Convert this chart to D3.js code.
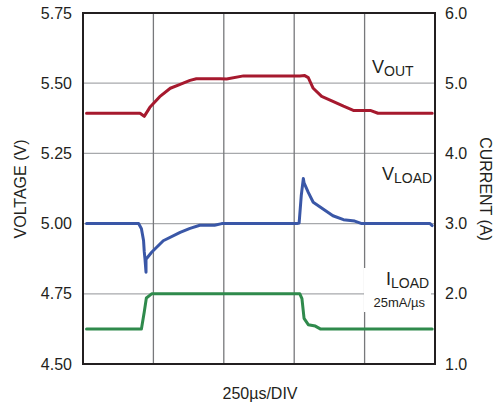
<!DOCTYPE html>
<html><head><meta charset="utf-8">
<script src="https://cdn.jsdelivr.net/npm/d3@7"></script>
<style>
body{margin:0;background:#fff;}
text{font-family:"Liberation Sans Narrow","Arial Narrow","Liberation Sans",Arial,sans-serif;fill:#231f20;}
</style></head><body>
<svg id="c" width="494" height="408"></svg>
<script>
// time in divisions (250µs/DIV), voltages in V, current in A
const voltTicks = [4.50, 4.75, 5.00, 5.25, 5.50, 5.75];
const currTicks = [1.0, 2.0, 3.0, 4.0, 5.0, 6.0];
const timeGrid = [1, 2, 3, 4];

const voutT = [0.05,0.81,0.87,0.95,1.09,1.24,1.38,1.52,1.61,1.95,2.04,2.28,3.08,3.15,3.20,3.27,3.39,3.51,3.70,3.84,4.08,4.19,4.96];
const voutV = [5.393,5.393,5.382,5.414,5.452,5.482,5.496,5.510,5.516,5.516,5.515,5.526,5.526,5.527,5.520,5.482,5.453,5.440,5.418,5.403,5.403,5.393,5.393];

const vloadT = [0.05,0.79,0.83,0.86,0.87,0.88,0.895,0.895,0.975,1.14,1.38,1.52,1.66,1.87,1.97,3.04,3.07,3.10,3.13,3.14,3.20,3.27,3.41,3.55,3.70,3.86,3.96,4.93,4.96];
const vloadV = [5.000,5.000,4.982,4.940,4.900,4.875,4.827,4.873,4.898,4.939,4.969,4.983,4.994,4.994,5.000,5.000,5.002,5.099,5.161,5.145,5.111,5.076,5.052,5.028,5.014,5.009,5.000,5.000,4.993];

const iloadT = [0.05,0.83,0.87,0.90,0.975,3.08,3.11,3.14,3.20,3.30,3.37,4.96];
const iloadA = [1.50,1.50,1.74,1.94,2.00,2.00,1.93,1.65,1.56,1.54,1.50,1.50];

const svg = d3.select("#c");
const L = 83, R = 435, T = 13, B = 364;
const x = d3.scaleLinear().domain([0,5]).range([L,R]);
const yV = d3.scaleLinear().domain([4.5,5.75]).range([B,T]);
const yA = d3.scaleLinear().domain([1.0,6.0]).range([B,T]);

// grid
svg.append("g").selectAll("line").data(voltTicks.slice(1,-1)).join("line")
  .attr("x1",L).attr("x2",R).attr("y1",d=>yV(d)).attr("y2",d=>yV(d))
  .attr("stroke","#a7a9ac").attr("stroke-width",1.3);
svg.append("g").selectAll("line").data(timeGrid).join("line")
  .attr("x1",d=>x(d)).attr("x2",d=>x(d)).attr("y1",T).attr("y2",B)
  .attr("stroke","#77787b").attr("stroke-width",1.3);

// axes (labels only)
const axL = d3.axisLeft(yV).tickValues(voltTicks).tickFormat(d3.format(".2f")).tickSize(0).tickPadding(11);
const gL = svg.append("g").attr("transform",`translate(${L},0)`).call(axL);
const axR = d3.axisRight(yA).tickValues(currTicks).tickFormat(d3.format(".1f")).tickSize(0).tickPadding(10);
const gR = svg.append("g").attr("transform",`translate(${R},0)`).call(axR);
[gL,gR].forEach(g=>{g.select(".domain").remove(); g.selectAll("text").style("font-size","16px").attr("fill","#231f20");});

// white label box for ILOAD
svg.append("rect").attr("x",364).attr("y",268).attr("width",67).attr("height",44).attr("fill","#fff");

// lines
const line = (ys) => d3.line().x(d=>x(d[0])).y(d=>ys(d[1])).curve(d3.curveLinear);
svg.append("path").datum(d3.zip(voutT,voutV)).attr("d",line(yV))
  .attr("fill","none").attr("stroke","#a6192e").attr("stroke-width",3).attr("stroke-linejoin","round").attr("stroke-linecap","round");
svg.append("path").datum(d3.zip(vloadT,vloadV)).attr("d",line(yV))
  .attr("fill","none").attr("stroke","#3a57a7").attr("stroke-width",3).attr("stroke-linejoin","round").attr("stroke-linecap","round");
svg.append("path").datum(d3.zip(iloadT,iloadA)).attr("d",line(yA))
  .attr("fill","none").attr("stroke","#2f8a4c").attr("stroke-width",3).attr("stroke-linejoin","round").attr("stroke-linecap","round");

// frame
svg.append("rect").attr("x",L).attr("y",T).attr("width",R-L).attr("height",B-T)
  .attr("fill","none").attr("stroke","#231f20").attr("stroke-width",2);

// titles
svg.append("text").attr("transform","translate(26,189) rotate(-90)").attr("text-anchor","middle")
  .style("font-size","16px").text("VOLTAGE (V)");
svg.append("text").attr("transform","translate(480,189) rotate(90)").attr("text-anchor","middle")
  .style("font-size","16px").text("CURRENT (A)");
svg.append("text").attr("x",260).attr("y",399).attr("text-anchor","middle")
  .style("font-size","16px").text("250µs/DIV");

// series labels
function lab(xp, yp, main, sub){
  const t = svg.append("text").attr("x",xp).attr("y",yp).style("font-size","18px");
  t.append("tspan").text(main);
  t.append("tspan").attr("dy",3).style("font-size","14px").text(sub);
}
lab(372,73,"V","OUT");
lab(382,180,"V","LOAD");
lab(386,285,"I","LOAD");
svg.append("text").attr("x",425).attr("y",307).attr("text-anchor","end").style("font-size","13px").text("25mA/µs");
</script></body></html>
